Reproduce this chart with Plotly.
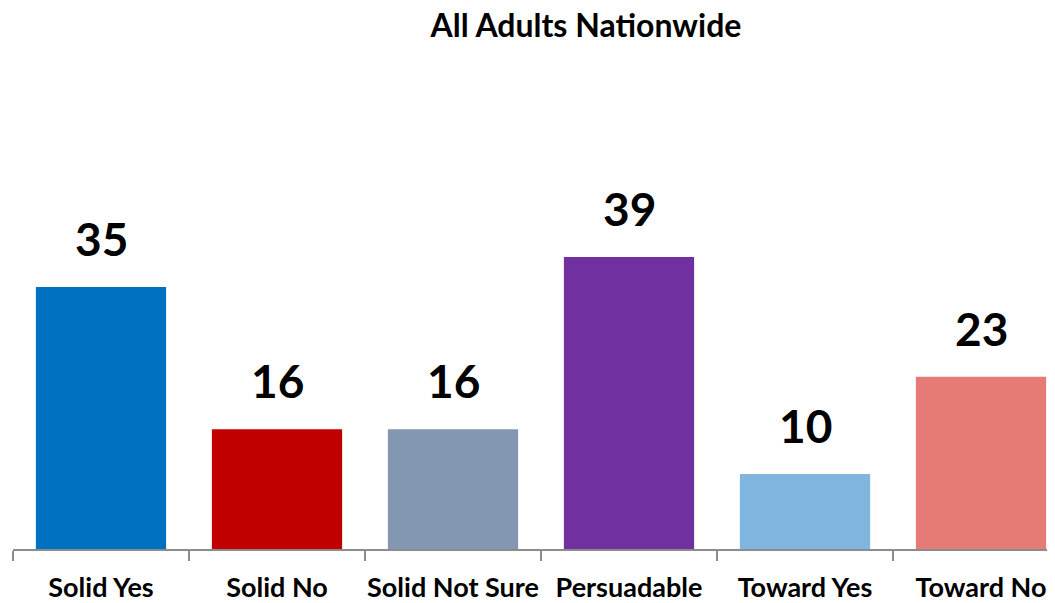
import plotly.graph_objects as go

categories = ["Solid Yes", "Solid No", "Solid Not Sure", "Persuadable", "Toward Yes", "Toward No"]
values = [35, 16, 16, 39, 10, 23]
colors = ["#0070C0", "#C00000", "#8497B0", "#7030A0", "#7FB5DE", "#E57A77"]
title_text = "All Adults Nationwide"

FONT = "Lato"
W, H = 1047, 595  # page body has 8px default margin

fig = go.Figure()
fig.add_trace(go.Bar(
    x=categories, y=values,
    marker=dict(color=colors, line=dict(width=0)),
    hoverinfo="skip",
))

for c, v in zip(categories, values):
    fig.add_annotation(
        x=c, y=v, xref="x", yref="y",
        text=f"<b>{v}</b>", showarrow=False,
        yanchor="bottom", yshift=19,
        font=dict(family=FONT, size=46, color="#000000"),
    )

fig.update_layout(
    width=W, height=H,
    paper_bgcolor="white", plot_bgcolor="white",
    margin=dict(l=5, r=0, t=52, b=53.5, autoexpand=False),
    bargap=0.26,
    showlegend=False,
    title=dict(
        text=f"<b>{title_text}</b>",
        x=578 / W, xanchor="center", xref="container",
        y=1 - 18 / H, yanchor="middle", yref="container",
        font=dict(family=FONT, size=32, color="#000000"),
    ),
)

fig.update_xaxes(
    type="category",
    range=[-0.5, -0.5 + 1042 / 176],
    showline=True, linecolor="#8C8C8C", linewidth=2,
    ticks="outside", tickson="boundaries", ticklen=10, tickcolor="#8C8C8C", tickwidth=2,
    tickfont=dict(family=FONT, size=27, color="#000000"),
    tickangle=0, automargin=False,
    ticklabelstandoff=14,
    showgrid=False, zeroline=False,
    tickprefix="<b>", ticksuffix="</b>",
)
fig.update_yaxes(
    range=[0, 65.3], visible=False, showgrid=False, zeroline=False,
)

fig.write_html("out.html")
